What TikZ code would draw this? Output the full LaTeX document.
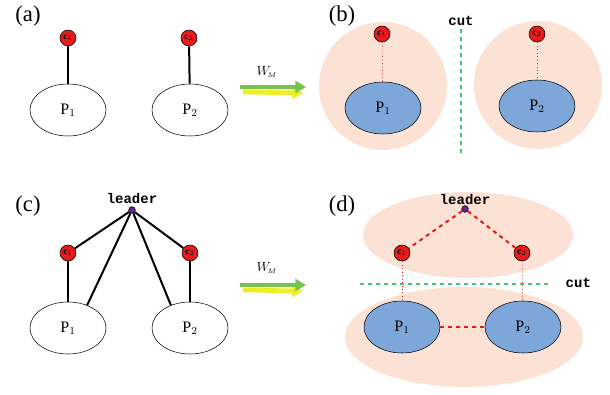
\documentclass[tikz,border=0pt]{standalone}
\usepackage{fontspec}
\setmainfont{Liberation Serif}
\newfontfamily\monob{Liberation Mono}
\usetikzlibrary{arrows.meta,shapes.geometric}
\definecolor{peach}{RGB}{252,226,212}
\definecolor{pblue}{RGB}{124,167,216}
\definecolor{cred}{RGB}{228,28,28}
\definecolor{agreen}{RGB}{118,196,78}
\definecolor{ayellow}{RGB}{238,238,40}
\definecolor{cutgreen}{RGB}{70,196,110}
\definecolor{lpurple}{RGB}{100,40,140}
\tikzset{
  party/.style={draw,ellipse,minimum width=57pt,minimum height=39pt,inner sep=0pt,font=\fontsize{12}{12}\selectfont},
  partyb/.style={party,fill=pblue},
  client/.style={draw,circle,fill=cred,minimum size=12pt,inner sep=0pt,font=\fontsize{7}{7}\selectfont\bfseries},
  leaderdot/.style={draw,circle,fill=lpurple,minimum size=5pt,inner sep=0pt},
  tlabel/.style={font=\monob\bfseries\fontsize{10.5}{10.5}\selectfont},
  plabel/.style={font=\fontsize{17}{17}\selectfont},
  cutline/.style={cutgreen,dashed,line width=0.8pt},
  strong/.style={line width=1.5pt},
  weak/.style={cred,dotted,line width=0.6pt},
  reddash/.style={cred,dashed,line width=1.5pt}
}
\begin{document}
\begin{tikzpicture}[x=0.75pt,y=0.75pt,yscale=-1,xscale=1]
	\useasboundingbox (0,0) rectangle (610,395);
	% panel (a)
	\node[plabel] (la) at (28,16) {(a)};
	\node[party] (a1) at (68,110) {P$_1$};
	\node[party] (a2) at (190,110) {P$_2$};
	\node[client] (ac1) at (68,38) {c$_1$};
	\node[client] (ac2) at (189,38) {c$_2$};
	\draw[strong] (ac1) -- (a1);
	\draw[strong] (ac2) -- (a2);
	% arrow (a) -> (b)
	\coordinate (y1s) at (243,92);
	\coordinate (y1e) at (303,93);
	\coordinate (g1s) at (240,87);
	\coordinate (g1e) at (306,87);
	\draw[ayellow,line width=3.5pt,-{Triangle[length=8pt,width=9pt]}] (y1s) -- (y1e);
	\draw[agreen,line width=3.5pt,-{Triangle[length=8pt,width=9pt]}] (g1s) -- (g1e);
	\node (wm1) at (267,72) {$W_{\!\scriptscriptstyle M}$};
	% panel (b)
	\fill[peach] (383,86) circle (64);
	\fill[peach] (538,85) circle (64);
	\node[plabel] (lb) at (342,16) {(b)};
	\node[partyb] (b1) at (383,108) {P$_1$};
	\node[partyb] (b2) at (537,106) {P$_2$};
	\node[client] (bc1) at (382,34) {c$_1$};
	\node[client] (bc2) at (537,34) {c$_2$};
	\draw[weak] (bc1) -- (b1);
	\draw[weak] (bc2) -- (b2);
	\node[tlabel] (cutb) at (461,21) {cut};
	\coordinate (cb1) at (461,29);
	\coordinate (cb2) at (461,156);
	\draw[cutline] (cb1) -- (cb2);
	% panel (c)
	\node[plabel] (lc) at (28,206) {(c)};
	\node[tlabel] (ldc) at (132,198) {leader};
	\node[leaderdot] (lc0) at (132,210) {};
	\node[party] (c1) at (68,328) {P$_1$};
	\node[party] (c2) at (190,328) {P$_2$};
	\node[client] (cc1) at (68,253) {c$_1$};
	\node[client] (cc2) at (190,253) {c$_2$};
	\draw[strong] (lc0) -- (cc1);
	\draw[strong] (lc0) -- (cc2);
	\draw[strong] (cc1) -- (c1);
	\draw[strong] (cc2) -- (c2);
	\draw[strong] (lc0) -- (c1.50);
	\draw[strong] (lc0) -- (c2.130);
	% arrow (c) -> (d)
	\coordinate (y2s) at (243,290);
	\coordinate (y2e) at (303,291);
	\coordinate (g2s) at (240,285);
	\coordinate (g2e) at (306,285);
	\draw[ayellow,line width=3.5pt,-{Triangle[length=8pt,width=9pt]}] (y2s) -- (y2e);
	\draw[agreen,line width=3.5pt,-{Triangle[length=8pt,width=9pt]}] (g2s) -- (g2e);
	\node (wm2) at (267,268) {$W_{\!\scriptscriptstyle M}$};
	% panel (d)
	\fill[peach] (468,235) ellipse (105 and 43);
	\fill[peach] (464,337) ellipse (119 and 50);
	\node[plabel] (ld) at (342,206) {(d)};
	\node[tlabel] (ldd) at (465,199) {leader};
	\node[leaderdot] (ld0) at (465,209) {};
	\node[client] (dc1) at (402,253) {c$_1$};
	\node[client] (dc2) at (522,253) {c$_2$};
	\node[partyb] (d1) at (402,327) {P$_1$};
	\node[partyb] (d2) at (523,327) {P$_2$};
	\draw[reddash] (ld0) -- (dc1);
	\draw[reddash] (ld0) -- (dc2);
	\draw[reddash] (d1) -- (d2);
	\draw[weak] (dc1) -- (d1);
	\draw[weak] (dc2) -- (d2);
	\coordinate (cd1) at (360,284);
	\coordinate (cd2) at (552,284);
	\draw[cutline] (cd1) -- (cd2);
	\node[tlabel,anchor=west] (cutd) at (561,283) {cut};
\end{tikzpicture}
\end{document}
